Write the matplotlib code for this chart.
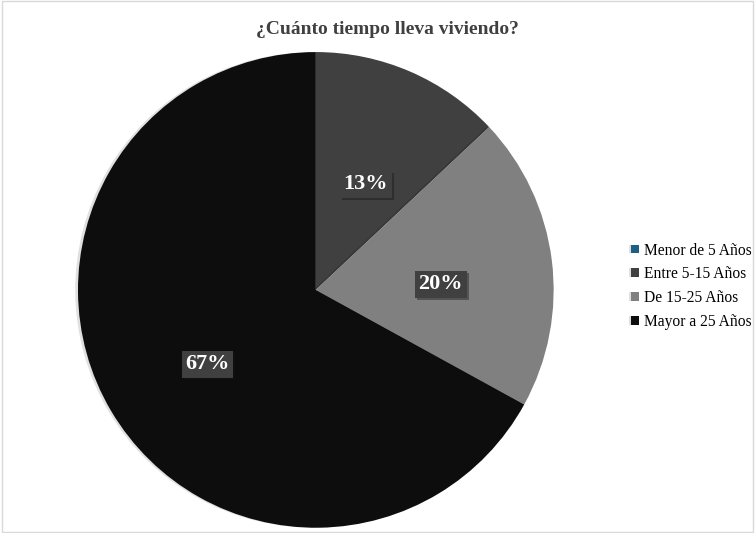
'''
pie chart: time living in the place
'''

import matplotlib.pyplot as plt
import matplotlib.patheffects as pe
from matplotlib.patches import Rectangle

categories = ['Menor de 5 Años', 'Entre 5-15 Años', 'De 15-25 Años', 'Mayor a 25 Años']
values = [0, 13, 20, 67]
colors = ['#1f5f86', '#404040', '#808080', '#0d0d0d']

plt.rcParams['font.family'] = ['Liberation Serif', 'DejaVu Serif']

fig = plt.figure(figsize=(7.55, 5.33), dpi=100)
fig.patches.append(Rectangle((0.002, 0.002), 0.996, 0.996, transform=fig.transFigure,
                             fill=False, edgecolor='#d9d9d9', linewidth=1))

ax = fig.add_axes([0.1033, 0.0096, 0.630, 0.893])


def fmt(p):
    return '%d%%' % round(p) if p > 0.5 else ''


wedges, texts, autotexts = ax.pie(values, colors=colors, startangle=90, counterclock=False,
                                  autopct=fmt, pctdistance=0.53,
                                  wedgeprops=dict(linewidth=0))
for w in wedges:
    w.set_path_effects([pe.SimplePatchShadow(offset=(-2, 0), shadow_rgbFace='#000000', alpha=0.12),
                        pe.Normal()])
for t in autotexts:
    t.set_color('white')
    t.set_fontsize(16)
    t.set_fontweight('bold')
    t.set_va('top')
    t.set_bbox(dict(facecolor='#404040', edgecolor='none', pad=2.5,
                    path_effects=[pe.SimplePatchShadow(offset=(1.5, -1.5), alpha=0.4), pe.Normal()]))
ax.set_xlim(-1, 1)
ax.set_ylim(-1, 1)
ax.set_aspect('equal')

fig.text(0.513, 0.944, '¿Cuánto tiempo lleva viviendo?', ha='center', va='center',
         fontsize=14, fontweight='bold', color='#404040')

fig.legend(wedges, categories, loc='center left', bbox_to_anchor=(0.828, 0.463),
           frameon=False, fontsize=11.2, handlelength=0.5, handleheight=0.5,
           handletextpad=0.3, labelspacing=0.5, borderaxespad=0)

fig.savefig('out.png', dpi=100)
